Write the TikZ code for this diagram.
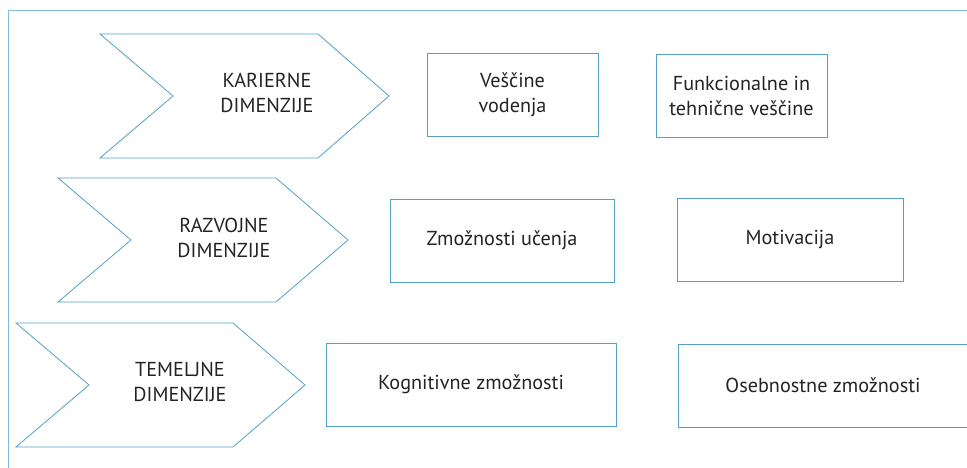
\documentclass[tikz,border=0pt]{standalone}
\usepackage{fontspec}
\setmainfont{PT Sans}
\usetikzlibrary{positioning}
\definecolor{framecol}{RGB}{128,188,214}
\definecolor{edgecol}{RGB}{82,160,198}
\definecolor{inkcol}{RGB}{38,34,35}

\begin{document}
\begin{tikzpicture}[
  x=1pt, y=-1pt,
  font=\fontsize{20.2}{25}\selectfont, text=inkcol,
  chevron/.style={draw=edgecol, line width=0.8pt, line join=miter},
  dimlabel/.style={align=center, inner sep=0pt},
  skillbox/.style={draw=edgecol, line width=0.8pt, align=center,
                   inner sep=0pt, minimum height=83pt}
]
  \useasboundingbox (0,0) rectangle (967,468);
  \clip (0,0) rectangle (967,468);

  % Outer frame, running off the right and bottom edges.
  \draw[framecol, line width=0.8pt] (8,480) |- (980,10);

  % Career dimensions.
  \draw[chevron] (100,34) -- (318,34) -- (389,96) -- (318,158)
    -- (100,158) -- (173,96) -- cycle;
  \node[dimlabel] (career) at (267,93) {KARIERNE\\DIMENZIJE};
  \node[skillbox, minimum width=171pt] (lead) at (512.5,94.5)
    {Veščine\\vodenja};
  \node[skillbox, minimum width=171pt] (tech) at (741.5,95.5)
    {Funkcionalne in\\tehnične veščine};

  % Developmental dimensions.
  \draw[chevron] (58,178) -- (276,178) -- (348,240) -- (276,302)
    -- (58,302) -- (131,240) -- cycle;
  \node[dimlabel] (devel) at (224,238) {RAZVOJNE\\DIMENZIJE};
  \node[skillbox, minimum width=224pt] (learn) at (502,240.5)
    {Zmožnosti učenja};
  \node[skillbox, minimum width=226pt] (motiv) at (790,239.5)
    {Motivacija};

  % Basic dimensions.
  \draw[chevron] (16,323) -- (233,323) -- (305,385) -- (233,447)
    -- (16,447) -- (89,385) -- cycle;
  \node[dimlabel] (basic) at (180,382) {TEMELJNE\\DIMENZIJE};
  \node[skillbox, minimum width=290pt] (cogn) at (471,384.5)
    {Kognitivne zmožnosti};
  \node[skillbox, minimum width=290pt] (person) at (823,385.5)
    {Osebnostne zmožnosti};
\end{tikzpicture}
\end{document}
